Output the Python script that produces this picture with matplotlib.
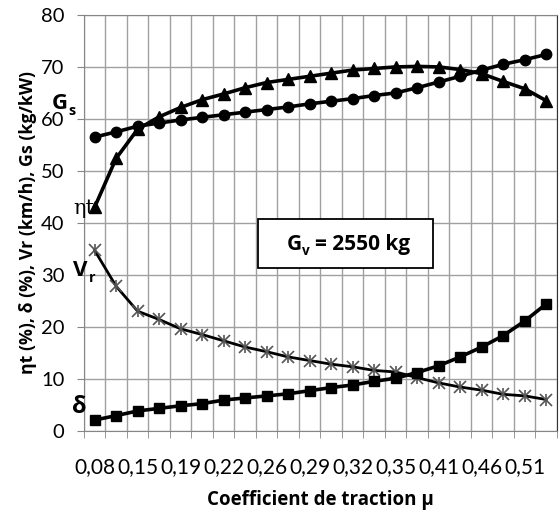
import numpy as np
import matplotlib
matplotlib.use('Agg')
from matplotlib import pyplot as plt
from matplotlib.patches import Rectangle

plt.rcParams['font.family'] = ['Lato', 'DejaVu Sans']
BOLD = ['Open Sans', 'DejaVu Sans']

# data (22 categories of traction coefficient)
tick_labels = ['0,08', '0,15', '0,19', '0,22', '0,26', '0,29', '0,32', '0,35', '0,41', '0,46', '0,51']
gs = [56.5, 57.5, 58.6, 59.2, 59.8, 60.3, 60.8, 61.3, 61.8, 62.3, 62.9,
      63.4, 63.9, 64.5, 65.0, 66.0, 67.1, 68.2, 69.4, 70.5, 71.4, 72.4]
eta = [43.0, 52.4, 58.0, 60.4, 62.2, 63.7, 64.8, 66.0, 67.0, 67.6, 68.2,
       68.8, 69.4, 69.7, 70.0, 70.1, 70.0, 69.5, 68.7, 67.2, 65.8, 63.5]
vr = [34.7, 27.8, 23.0, 21.4, 19.6, 18.5, 17.3, 16.1, 15.2, 14.2, 13.5,
      12.8, 12.3, 11.6, 11.3, 10.2, 9.2, 8.4, 7.8, 7.0, 6.7, 6.0]
delta = [2.05, 2.9, 3.8, 4.3, 4.8, 5.2, 5.9, 6.3, 6.7, 7.1, 7.7,
         8.3, 8.8, 9.5, 10.1, 11.2, 12.5, 14.2, 16.1, 18.3, 21.1, 24.4]

x = np.arange(len(gs))

fig = plt.figure(figsize=(5.59, 5.16), dpi=100)
ax = fig.add_axes([0.150, 0.1653, 0.8464, 0.8057])

ax.plot(x, gs, color='black', lw=2.6, marker='o', ms=7.5, zorder=4)
ax.plot(x, eta, color='black', lw=2.6, marker='^', ms=8.5, zorder=4)
ax.plot(x, vr, color='black', lw=2.0, zorder=3)
ax.plot(x, vr, ls='none', marker='x', ms=8, mew=1.2, color='#555555', zorder=3)
ax.plot(x, vr, ls='none', marker='|', ms=9, mew=1.2, color='#555555', zorder=3)
ax.plot(x, delta, color='black', lw=2.6, marker='s', ms=6.5, zorder=4)

ax.set_xlim(-0.5, len(x) - 0.5)
ax.set_ylim(0, 80)
ax.set_yticks(np.arange(0, 81, 10))

# one label every second category
ax.set_xticks(x[::2])
ax.set_xticklabels(tick_labels)
ax.set_xticks(np.arange(-0.5, len(x), 1.0), minor=True)
ax.tick_params(axis='x', which='major', length=0, pad=19, labelsize=15)
ax.tick_params(axis='x', which='minor', length=5, color='#868686', direction='out')
ax.tick_params(axis='y', length=5, color='#868686', pad=9, labelsize=14.5)

ax.grid(True, which='minor', axis='x', color='#a0a0a0', lw=1.0)
ax.grid(True, which='major', axis='y', color='#a0a0a0', lw=1.0)
ax.set_axisbelow(True)
for s in ['left', 'top', 'bottom']:
    ax.spines[s].set_color('#868686')
ax.spines['right'].set_color('#333333')

ax.set_xlabel('Coefficient de traction μ', fontsize=13.5, fontweight='bold',
              family=BOLD, labelpad=9)
ax.set_ylabel('ηt (%), δ (%), Vr (km/h), Gs (kg/kW)', fontsize=12.8, fontweight='bold',
              family=BOLD, labelpad=3)


def sub_label(xv, yv, main, sub, size):
    # main letter ends at the anchor, its subscript starts there
    ax.annotate(main, (xv, yv), fontsize=size, fontweight='bold', family=BOLD,
                ha='right', va='center', annotation_clip=False, zorder=7)
    ax.annotate(sub, (xv, yv), xytext=(0.5, -5), textcoords='offset points',
                fontsize=size * 0.65, fontweight='bold', family=BOLD,
                ha='left', va='center', annotation_clip=False, zorder=7)


# curve names
sub_label(-1.244, 62.9, 'G', 's', 16)
sub_label(-0.314, 30.8, 'V', 'r', 16)
ax.text(-0.5, 42.8, 'ηt', fontsize=15, ha='center', va='center', family='DejaVu Serif',
        color='black', clip_on=False, zorder=7)
ax.text(-0.7, 4.6, 'δ', fontsize=17, fontweight='bold', family=BOLD,
        ha='center', va='center', clip_on=False)

# weight box
ax.add_patch(Rectangle((7.59, 31.4), 8.14, 9.35, fc='white', ec='black', lw=1.3, zorder=6))
sub_label(9.62, 35.9, 'G', 'v', 15)
ax.annotate('= 2550 kg', (9.62, 35.9), xytext=(10, 0), textcoords='offset points',
            fontsize=15, fontweight='bold', family=BOLD, ha='left', va='center', zorder=7)

fig.savefig('out.png', dpi=100)
